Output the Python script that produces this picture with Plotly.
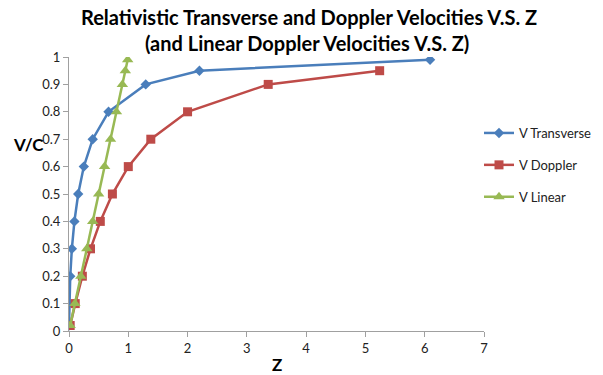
import plotly.graph_objects as go

# Data
v_levels = [0.02, 0.1, 0.2, 0.3, 0.4, 0.5, 0.6, 0.7, 0.8, 0.9, 0.95, 0.99]
z_transverse = [0.0002, 0.005, 0.021, 0.048, 0.091, 0.155, 0.25, 0.40, 0.667, 1.294, 2.20, 6.09]
v_doppler = [0.02, 0.1, 0.2, 0.3, 0.4, 0.5, 0.6, 0.7, 0.8, 0.9, 0.95]
z_doppler = [0.02, 0.105, 0.225, 0.363, 0.528, 0.732, 1.0, 1.38, 2.0, 3.36, 5.24]
v_linear = [0.02, 0.1, 0.2, 0.3, 0.4, 0.5, 0.6, 0.7, 0.8, 0.9, 0.95, 0.99]
z_linear = [0.02, 0.1, 0.2, 0.3, 0.4, 0.5, 0.6, 0.7, 0.8, 0.9, 0.95, 0.99]

x_ticks = [0, 1, 2, 3, 4, 5, 6, 7]
y_ticks = [0, 0.1, 0.2, 0.3, 0.4, 0.5, 0.6, 0.7, 0.8, 0.9, 1]

blue = "#4a7ebb"
red = "#be4b48"
green = "#98b954"

fig = go.Figure()
fig.add_trace(go.Scatter(x=z_transverse, y=v_levels, mode="lines+markers", name="V Transverse",
                         legendgroup="a",
                         line=dict(color=blue, width=2.5),
                         marker=dict(symbol="diamond", size=8, color=blue)))
fig.add_trace(go.Scatter(x=z_doppler, y=v_doppler, mode="lines+markers", name="V Doppler",
                         legendgroup="b",
                         line=dict(color=red, width=2.5),
                         marker=dict(symbol="square", size=9, color=red)))
fig.add_trace(go.Scatter(x=z_linear, y=v_linear, mode="lines+markers", name="V Linear",
                         legendgroup="c",
                         line=dict(color=green, width=2.5),
                         marker=dict(symbol="triangle-up", size=10, color=green)))

font_family = "Lato, Open Sans, Liberation Sans, sans-serif"

L, R, T, B = 69, 119, 57, 44
pw = 603 - L - R
ph = 375 - T - B

def px(x):
    return (x - L) / pw

def py(y):
    return (375 - B - y) / ph

fig.update_layout(
    width=603, height=375,
    margin=dict(l=L, r=R, t=T, b=B, autoexpand=False),
    paper_bgcolor="white", plot_bgcolor="white",
    font=dict(family=font_family, size=13, color="#222"),
    showlegend=True,
    legend=dict(x=px(479), xanchor="left", y=py(118), yanchor="top",
                font=dict(size=13, color="#222"), tracegroupgap=12,
                bgcolor="rgba(0,0,0,0)"),
    xaxis=dict(range=[0, 7], tickvals=x_ticks, showgrid=False, zeroline=False,
               showline=True, linecolor="#a0a0a0", linewidth=1,
               ticks="outside", ticklen=5, tickcolor="#a0a0a0",
               tickfont=dict(size=13, color="#222")),
    yaxis=dict(range=[0, 1], tickvals=y_ticks, showgrid=False, zeroline=False,
               showline=True, linecolor="#a0a0a0", linewidth=1,
               ticks="outside", ticklen=5, tickcolor="#a0a0a0",
               tickfont=dict(size=13, color="#222")),
    annotations=[
        dict(text="<b>Relativistic Transverse and Doppler Velocities V.S. Z</b>",
             x=px(309), y=py(17), xref="paper", yref="paper", showarrow=False,
             xanchor="center", yanchor="middle", font=dict(size=20, color="black")),
        dict(text="<b>(and Linear Doppler Velocities V.S. Z)</b>",
             x=px(307), y=py(43), xref="paper", yref="paper", showarrow=False,
             xanchor="center", yanchor="middle", font=dict(size=20, color="black")),
        dict(text="<b>Z</b>", x=px(277), y=py(364), xref="paper", yref="paper",
             showarrow=False, xanchor="center", yanchor="middle",
             font=dict(size=17, color="black")),
        dict(text="<b>V/C</b>", x=px(28), y=py(144), xref="paper", yref="paper",
             showarrow=False, xanchor="center", yanchor="middle",
             font=dict(size=17, color="black")),
    ],
)

fig.write_html("out.html")
